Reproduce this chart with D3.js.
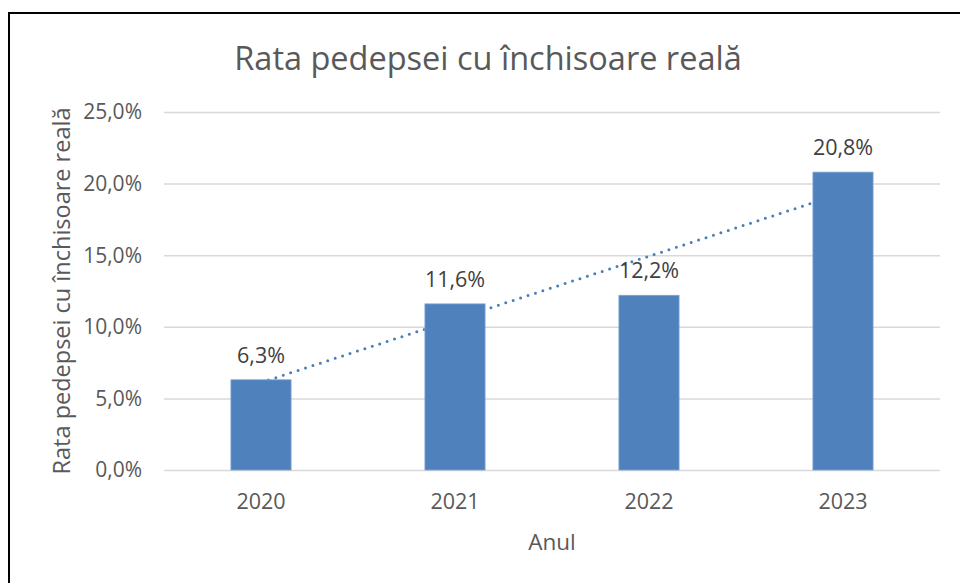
<!DOCTYPE html>
<html>
<head>
<meta charset="utf-8">
<script src="https://cdn.jsdelivr.net/npm/d3@7"></script>
<style>
  body { margin: 0; background: #fff; }
  svg { display: block; font-family: "Open Sans", sans-serif; }
</style>
</head>
<body>
<div id="chart"></div>
<script>
// Chart data
const years = ['2020', '2021', '2022', '2023'];
const rates = [6.3, 11.6, 12.2, 20.8];
const yTicks = [0, 5, 10, 15, 20, 25];

const width = 960;
const height = 583;
const margin = { top: 112, right: 20, bottom: 113, left: 164 };
const innerWidth = width - margin.left - margin.right;
const innerHeight = height - margin.top - margin.bottom;

const pct = d => d3.format('.1f')(d).replace('.', ',') + '%';

const svg = d3.select('#chart')
    .append('svg')
    .attr('width', width)
    .attr('height', height);

// Outer frame: only the left and top edges are inside the picture
svg.append('path')
    .attr('d', `M9,${height} V13 H${width}`)
    .attr('fill', 'none')
    .attr('stroke', '#000')
    .attr('stroke-width', 2);

const chart = svg.append('g')
    .attr('transform', `translate(${margin.left},${margin.top})`);

const x = d3.scaleBand()
    .domain(years)
    .range([0, innerWidth])
    .paddingInner(0.69)
    .paddingOuter(0.345);

const y = d3.scaleLinear()
    .domain([0, 25])
    .range([innerHeight, 0]);

// Gridlines
chart.append('g')
    .attr('class', 'grid')
    .call(d3.axisLeft(y).tickValues(yTicks).tickSize(-innerWidth).tickFormat(''))
    .call(g => g.select('.domain').remove())
    .call(g => g.selectAll('line').attr('stroke', '#d9d9d9').attr('stroke-width', 1.5));

// Y tick labels
chart.append('g')
    .selectAll('text')
    .data(yTicks)
    .enter()
    .append('text')
    .attr('x', -22)
    .attr('y', d => y(d))
    .attr('dy', '0.35em')
    .attr('text-anchor', 'end')
    .attr('fill', '#595959')
    .style('font-size', '21px')
    .text(pct);

// X tick labels
chart.append('g')
    .selectAll('text')
    .data(years)
    .enter()
    .append('text')
    .attr('x', d => x(d) + x.bandwidth() / 2)
    .attr('y', innerHeight + 39)
    .attr('text-anchor', 'middle')
    .attr('fill', '#595959')
    .style('font-size', '21.5px')
    .text(d => d);

// Linear trendline (least squares on category index), drawn under the bars
const xs = rates.map((d, i) => i + 1);
const mx = d3.mean(xs);
const my = d3.mean(rates);
const slope = d3.sum(xs, (v, i) => (v - mx) * (rates[i] - my)) / d3.sum(xs, v => (v - mx) * (v - mx));
const intercept = my - slope * mx;
const trend = [1, years.length].map(v => ({ idx: v - 1, val: intercept + slope * v }));

chart.append('path')
    .datum(trend)
    .attr('d', d3.line()
        .x(d => x(years[d.idx]) + x.bandwidth() / 2)
        .y(d => y(d.val)))
    .attr('fill', 'none')
    .attr('stroke', '#4a7ebb')
    .attr('stroke-width', 3)
    .attr('stroke-linecap', 'round')
    .attr('stroke-dasharray', '0,7.8');

// Bars
chart.selectAll('.bar')
    .data(rates)
    .enter()
    .append('rect')
    .attr('class', 'bar')
    .attr('x', (d, i) => x(years[i]))
    .attr('y', d => y(d))
    .attr('width', x.bandwidth())
    .attr('height', d => innerHeight - y(d))
    .attr('fill', '#4f81bd')
    .attr('stroke', '#7ea3d1')
    .attr('stroke-width', 0.8);

// Data labels
chart.selectAll('.label')
    .data(rates)
    .enter()
    .append('text')
    .attr('class', 'label')
    .attr('x', (d, i) => x(years[i]) + x.bandwidth() / 2)
    .attr('y', d => y(d) - 17)
    .attr('text-anchor', 'middle')
    .attr('fill', '#404040')
    .style('font-size', '21.5px')
    .text(pct);

// Axis titles
chart.append('text')
    .attr('x', innerWidth / 2)
    .attr('y', innerHeight + 80)
    .attr('text-anchor', 'middle')
    .attr('fill', '#595959')
    .style('font-size', '22.5px')
    .text('Anul');

chart.append('text')
    .attr('transform', 'rotate(-90)')
    .attr('x', -innerHeight / 2)
    .attr('y', -94)
    .attr('text-anchor', 'middle')
    .attr('fill', '#595959')
    .style('font-size', '23.5px')
    .text('Rata pedepsei cu închisoare reală');

// Title
svg.append('text')
    .attr('x', 488)
    .attr('y', 70)
    .attr('text-anchor', 'middle')
    .attr('fill', '#595959')
    .style('font-size', '32.5px')
    .text('Rata pedepsei cu închisoare reală');
</script>
</body>
</html>
